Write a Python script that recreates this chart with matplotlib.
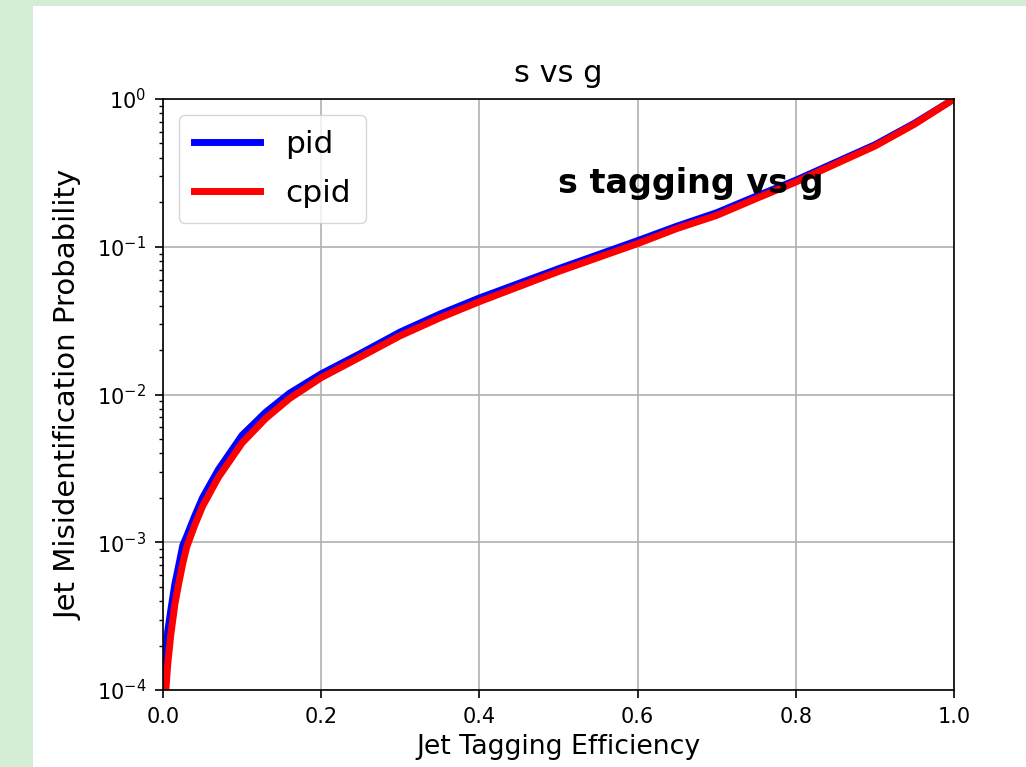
import numpy as np
import matplotlib
matplotlib.use('Agg')
import matplotlib.pyplot as plt
from matplotlib.patches import Rectangle

# ROC-style curves (efficiency vs mistag probability)
eff = [0.0, 0.003, 0.006, 0.010, 0.015, 0.020, 0.025, 0.030, 0.040, 0.050,
       0.070, 0.100, 0.130, 0.160, 0.200, 0.250, 0.300, 0.350, 0.400, 0.500,
       0.600, 0.650, 0.700, 0.750, 0.800, 0.850, 0.900, 0.950, 1.000]
pid_mistag = [1.0e-4, 1.6e-4, 2.5e-4, 3.5e-4, 5.2e-4, 7.0e-4, 9.5e-4, 1.1e-3,
              1.5e-3, 2.0e-3, 3.1e-3, 5.3e-3, 7.6e-3, 1.02e-2, 1.38e-2, 1.9e-2,
              2.65e-2, 3.5e-2, 4.5e-2, 7.1e-2, 1.1e-1, 1.38e-1, 1.7e-1, 2.2e-1,
              2.82e-1, 3.72e-1, 4.9e-1, 6.85e-1, 1.0]
cpid_mistag = [6.0e-5, 9.0e-5, 1.5e-4, 2.4e-4, 3.8e-4, 5.3e-4, 7.2e-4, 9.3e-4,
               1.3e-3, 1.75e-3, 2.75e-3, 4.7e-3, 6.9e-3, 9.4e-3, 1.3e-2, 1.8e-2,
               2.5e-2, 3.3e-2, 4.25e-2, 6.8e-2, 1.05e-1, 1.33e-1, 1.63e-1, 2.12e-1,
               2.74e-1, 3.63e-1, 4.8e-1, 6.75e-1, 1.0]

W, H = 1026, 767
fig = plt.figure(figsize=(W / 100, H / 100), dpi=100, facecolor='#d3eed5')
# white canvas of the screenshot
fig.add_artist(Rectangle((33 / W, 0), 1 - 33 / W, (H - 6) / H,
                         transform=fig.transFigure, facecolor='white',
                         edgecolor='none', zorder=-1))

ax = fig.add_axes([163 / W, (H - 690) / H, 791 / W, 591 / H])
ax.plot(eff, pid_mistag, color='blue', lw=5, label='pid')
ax.plot(eff, cpid_mistag, color='red', lw=5, label='cpid')
ax.set_yscale('log')
ax.set_xlim(0, 1)
ax.set_ylim(1e-4, 1)
ax.grid(True, color='#b0b0b0', lw=1.2)

ax.set_title('s vs g', fontsize=22, pad=12)
ax.set_xlabel('Jet Tagging Efficiency', fontsize=19.3, labelpad=5)
ax.set_ylabel('Jet Misidentification Probability', fontsize=21, labelpad=10)
ax.text(0.5, 0.23, 's tagging vs g', fontsize=24, fontweight='bold')

ax.tick_params(which='major', labelsize=15, length=5.6, width=1.2, pad=6.5)
ax.tick_params(which='minor', length=3.2, width=1.0)
for s in ax.spines.values():
    s.set_linewidth(1.2)

ax.legend(loc='upper left', fontsize=22.5, handlelength=2.1, borderaxespad=0.5,
          labelspacing=0.62, borderpad=0.5)

plt.savefig('out.png', dpi=100, facecolor=fig.get_facecolor())
